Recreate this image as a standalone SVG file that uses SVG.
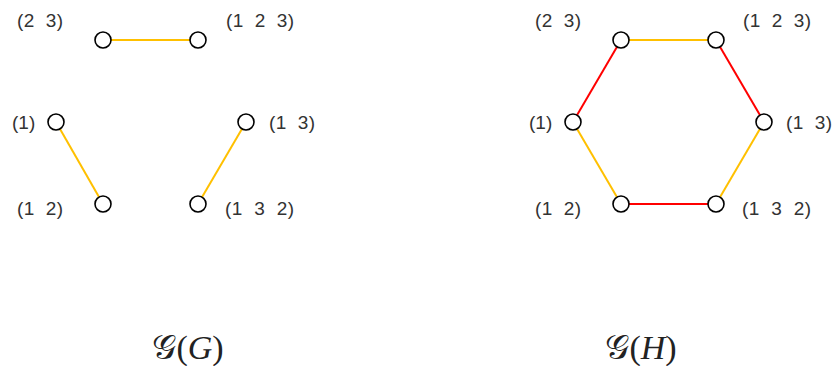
<svg xmlns="http://www.w3.org/2000/svg" width="833" height="366" viewBox="0 0 833 366">
<style>
.n{fill:#fff;stroke:#000;stroke-width:1.6}
.y{stroke:#ffc000;stroke-width:2;fill:none}
.r{stroke:#ff0000;stroke-width:2;fill:none}
.l{font-family:"Liberation Sans",Arial,sans-serif;font-size:19px;fill:#333;white-space:pre}
.c{font-family:"Liberation Serif","DejaVu Serif",serif;font-size:34px;fill:#222;text-anchor:middle}
</style>
<rect width="833" height="366" fill="#fff"/>
<g id="connectors">
<line class="y" x1="103" y1="40" x2="198" y2="40"/>
<line class="y" x1="56" y1="122" x2="103" y2="204"/>
<line class="y" x1="246" y1="122" x2="198" y2="204"/>
<line class="y" x1="621" y1="40" x2="716" y2="40"/>
<line class="r" x1="621" y1="40" x2="573" y2="122"/>
<line class="r" x1="716" y1="40" x2="764" y2="122"/>
<line class="y" x1="573" y1="122" x2="621" y2="204"/>
<line class="y" x1="764" y1="122" x2="716" y2="204"/>
<line class="r" x1="621" y1="204" x2="716" y2="204"/>
</g>
<g id="G-23"><circle class="n" cx="103" cy="40" r="8"/><text class="l" x="17" y="27" textLength="46" lengthAdjust="spacing">(2  3)</text></g>
<g id="G-123"><circle class="n" cx="198" cy="40" r="8"/><text class="l" x="226" y="27" textLength="68" lengthAdjust="spacing">(1  2  3)</text></g>
<g id="G-1"><circle class="n" cx="56" cy="122" r="8"/><text class="l" x="12" y="129">(1)</text></g>
<g id="G-13"><circle class="n" cx="246" cy="122" r="8"/><text class="l" x="269" y="129" textLength="46" lengthAdjust="spacing">(1  3)</text></g>
<g id="G-12"><circle class="n" cx="103" cy="204" r="8"/><text class="l" x="17" y="215" textLength="46" lengthAdjust="spacing">(1  2)</text></g>
<g id="G-132"><circle class="n" cx="198" cy="204" r="8"/><text class="l" x="225" y="215" textLength="69" lengthAdjust="spacing">(1  3  2)</text></g>
<g id="H-23"><circle class="n" cx="621" cy="40" r="8"/><text class="l" x="535" y="27" textLength="46" lengthAdjust="spacing">(2  3)</text></g>
<g id="H-123"><circle class="n" cx="716" cy="40" r="8"/><text class="l" x="743" y="27" textLength="68" lengthAdjust="spacing">(1  2  3)</text></g>
<g id="H-1"><circle class="n" cx="573" cy="122" r="8"/><text class="l" x="529" y="129">(1)</text></g>
<g id="H-13"><circle class="n" cx="764" cy="122" r="8"/><text class="l" x="786" y="129" textLength="46" lengthAdjust="spacing">(1  3)</text></g>
<g id="H-12"><circle class="n" cx="621" cy="204" r="8"/><text class="l" x="535" y="215" textLength="46" lengthAdjust="spacing">(1  2)</text></g>
<g id="H-132"><circle class="n" cx="716" cy="204" r="8"/><text class="l" x="742" y="215" textLength="69" lengthAdjust="spacing">(1  3  2)</text></g>
<text class="c" x="188" y="359">𝒢(<tspan font-style="italic">G</tspan>)</text>
<text class="c" x="641" y="359">𝒢(<tspan font-style="italic">H</tspan>)</text>
</svg>
